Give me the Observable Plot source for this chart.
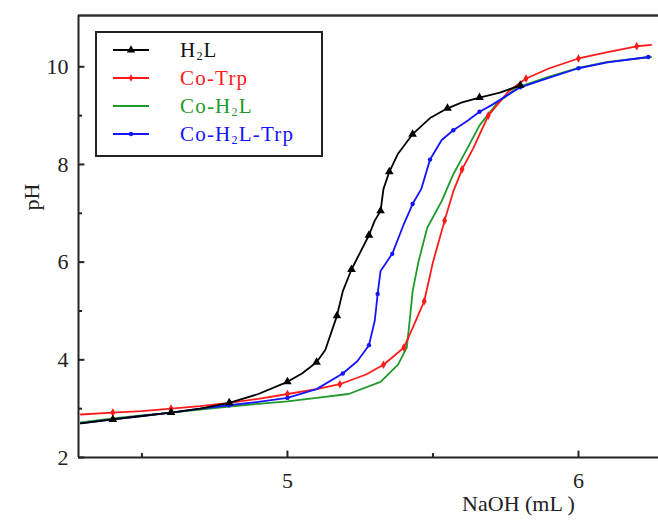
<!DOCTYPE html>
<html><head><meta charset="utf-8">
<script src="https://cdn.jsdelivr.net/npm/d3@7"></script>
<script src="https://cdn.jsdelivr.net/npm/@observablehq/plot@0.6"></script>
<style>
body{margin:0;background:#fff;}
#wrap{position:relative;width:658px;height:522px;font-family:"Liberation Serif","DejaVu Serif",serif;}
#legend{position:absolute;left:95px;top:31px;width:224px;height:122px;border:2px solid #222;background:#fff;}
.li{position:absolute;left:0;height:24px;}
.li svg{position:absolute;left:16px;top:2px;}
.li span{position:absolute;left:83px;top:0;font-size:21px;line-height:24px;white-space:nowrap;letter-spacing:1.2px;}
sub{font-size:12px;vertical-align:-3px;}
</style></head>
<body><div id="wrap"></div>
<script>
const seriesNames = ["H2L", "Co-Trp", "Co-H2L", "Co-H2L-Trp"];
const seriesColors = ["#000000", "#ff1a1a", "#1e9a2a", "#1414ff"];

const h2lX = [4.29,4.40,4.50,4.60,4.70,4.80,4.90,5.00,5.05,5.10,5.13,5.17,5.19,5.22,5.25,5.28,5.30,5.32,5.33,5.35,5.38,5.43,5.49,5.55,5.60,5.66,5.73,5.80];
const h2lY = [2.70,2.78,2.85,2.92,3.00,3.12,3.30,3.55,3.72,3.95,4.20,4.90,5.40,5.85,6.20,6.55,6.85,7.05,7.50,7.85,8.22,8.62,8.95,9.15,9.27,9.37,9.47,9.62];

const coTrpX = [4.29,4.40,4.50,4.60,4.70,4.80,4.90,5.00,5.10,5.18,5.27,5.33,5.37,5.40,5.43,5.47,5.50,5.54,5.57,5.60,5.64,5.69,5.76,5.82,5.90,6.00,6.10,6.20,6.25];
const coTrpY = [2.88,2.92,2.95,3.00,3.05,3.12,3.20,3.30,3.40,3.50,3.70,3.90,4.10,4.25,4.65,5.20,6.00,6.85,7.45,7.90,8.35,9.00,9.50,9.76,9.97,10.17,10.30,10.42,10.45];

const coH2lX = [4.29,4.40,4.50,4.60,4.70,4.80,4.90,5.00,5.10,5.21,5.32,5.38,5.41,5.42,5.43,5.45,5.48,5.53,5.57,5.62,5.66,5.72,5.79,5.90,6.00,6.10,6.25];
const coH2lY = [2.72,2.80,2.86,2.92,2.98,3.04,3.10,3.15,3.22,3.30,3.55,3.90,4.25,4.80,5.40,6.00,6.70,7.25,7.80,8.35,8.80,9.25,9.58,9.80,9.98,10.10,10.20];

const coH2lTrpX = [4.29,4.40,4.50,4.60,4.70,4.80,4.90,5.00,5.10,5.19,5.24,5.28,5.30,5.31,5.32,5.36,5.40,5.43,5.46,5.49,5.53,5.57,5.62,5.66,5.70,5.80,5.90,6.00,6.10,6.24];
const coH2lTrpY = [2.70,2.78,2.85,2.92,3.00,3.07,3.14,3.22,3.40,3.72,3.97,4.30,4.80,5.35,5.82,6.17,6.78,7.19,7.50,8.10,8.50,8.70,8.90,9.08,9.21,9.58,9.78,9.97,10.09,10.20];

const xTickLabels = [5, 6];
const xMinorTicks = [4.5, 5.5];
const yTickLabels = [2, 4, 6, 8, 10];
const yMinorTicks = [3, 5, 7, 9];
const xDomain = [4.282, 6.275];
const yDomain = [2, 11.05];

const pairs = (xs, ys, name) => xs.map((x, i) => ({x, y: ys[i], name}));
const h2l = pairs(h2lX, h2lY, seriesNames[0]);
const coTrp = pairs(coTrpX, coTrpY, seriesNames[1]);
const coH2l = pairs(coH2lX, coH2lY, seriesNames[2]);
const coH2lTrp = pairs(coH2lTrpX, coH2lTrpY, seriesNames[3]);
const every = (arr, k) => arr.filter((d, i) => i % k === 1);

const font = '"Liberation Serif","DejaVu Serif",serif';
const chart = Plot.plot({
  width: 658, height: 522,
  marginLeft: 78, marginRight: 0, marginTop: 15, marginBottom: 65,
  style: {fontFamily: font, background: "white"},
  x: {domain: xDomain},
  y: {domain: yDomain},
  marks: [
    Plot.axisX({ticks: xTickLabels, tickSize: 0, tickPadding: 15, fontSize: 22, fill: "#222", label: null, tickFormat: d => d}),
    Plot.axisY({ticks: yTickLabels, tickSize: 0, tickPadding: 10, fontSize: 22, fill: "#222", label: null, tickFormat: d => d}),
    Plot.ruleX(xTickLabels, {x: d => d, y1: yDomain[0], y2: yDomain[0] + 0.13, stroke: "#222", strokeWidth: 2}),
    Plot.ruleX(xMinorTicks, {x: d => d, y1: yDomain[0], y2: yDomain[0] + 0.08, stroke: "#222", strokeWidth: 2}),
    Plot.ruleY(yTickLabels, {y: d => d, x1: xDomain[0], x2: xDomain[0] + 0.022, stroke: "#222", strokeWidth: 2}),
    Plot.ruleY(yMinorTicks, {y: d => d, x1: xDomain[0], x2: xDomain[0] + 0.014, stroke: "#222", strokeWidth: 2}),
    Plot.lineY(coH2l, {x: "x", y: "y", stroke: seriesColors[2], strokeWidth: 1.8}),
    Plot.lineY(coTrp, {x: "x", y: "y", stroke: seriesColors[1], strokeWidth: 1.8}),
    Plot.dot(every(coTrp, 2), {x: "x", y: "y", fill: seriesColors[1], symbol: "diamond", r: 2.6}),
    Plot.lineY(coH2lTrp, {x: "x", y: "y", stroke: seriesColors[3], strokeWidth: 1.8}),
    Plot.dot(every(coH2lTrp, 2), {x: "x", y: "y", fill: seriesColors[3], symbol: "circle", r: 2.2}),
    Plot.lineY(h2l, {x: "x", y: "y", stroke: seriesColors[0], strokeWidth: 1.8}),
    Plot.dot(every(h2l, 2), {x: "x", y: "y", fill: seriesColors[0], symbol: "triangle", r: 3.2}),
    Plot.ruleY([yDomain[1]], {stroke: "#333", strokeWidth: 2.5}),
    Plot.ruleY([yDomain[0]], {stroke: "#222", strokeWidth: 2}),
    Plot.ruleX([xDomain[0]], {stroke: "#222", strokeWidth: 2}),
    Plot.text(["NaOH (mL )"], {frameAnchor: "bottom", dx: 150, dy: 53, fontSize: 22, fill: "#222"}),
    Plot.text(["pH"], {frameAnchor: "left", dx: -47, dy: -26, rotate: -90, fontSize: 22, fill: "#222"})
  ]
});
const wrap = document.getElementById("wrap");
wrap.appendChild(chart);

const legendLabels = ["H<sub>2</sub>L", "Co-Trp", "Co-H<sub>2</sub>L", "Co-H<sub>2</sub>L-Trp"];
const legendSymbols = ["triangle", "diamond", null, "circle"];
const legend = document.createElement("div");
legend.id = "legend";
legendLabels.forEach((lab, i) => {
  const row = document.createElement("div");
  row.className = "li";
  row.style.top = (5 + i * 28) + "px";
  const sym = legendSymbols[i];
  let marker = "";
  if (sym) {
    const s = d3.symbol(sym === "triangle" ? d3.symbolTriangle : sym === "diamond" ? d3.symbolDiamond : d3.symbolCircle, sym === "triangle" ? 30 : 16)();
    marker = `<path d="${s}" transform="translate(18,10)" fill="${seriesColors[i]}"/>`;
  }
  row.innerHTML = `<svg width="40" height="20"><line x1="0" x2="36" y1="10" y2="10" stroke="${seriesColors[i]}" stroke-width="2"/>${marker}</svg><span style="color:${seriesColors[i] === '#000000' ? '#111' : seriesColors[i]}">${lab}</span>`;
  legend.appendChild(row);
});
wrap.appendChild(legend);
</script>
</body></html>
